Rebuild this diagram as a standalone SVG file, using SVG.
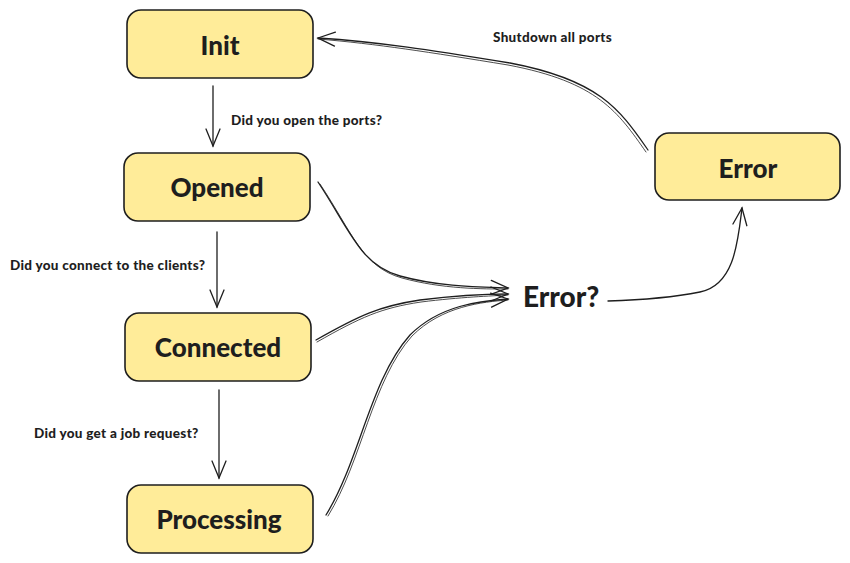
<svg xmlns="http://www.w3.org/2000/svg" width="850" height="563" viewBox="0 0 850 563">
<style>
.node rect{fill:#ffec99;stroke:#1e1e1e;stroke-width:1.6}
.nt{font-family:Lato,"Liberation Sans",sans-serif;font-weight:900;font-size:26px;fill:#1e1e1e;text-anchor:middle;dominant-baseline:central}
.lbl{font-family:Lato,"Liberation Sans",sans-serif;font-weight:900;font-size:13.5px;letter-spacing:0.3px;fill:#1e1e1e}
.c{fill:none;stroke:#1e1e1e;stroke-width:1.3;stroke-linecap:round}
.c2{fill:none;stroke:#1e1e1e;stroke-width:0.8;stroke-linecap:round}
</style>
<defs>
<marker id="ah" viewBox="0 0 20 20" refX="18" refY="10" markerWidth="20" markerHeight="20" markerUnits="userSpaceOnUse" orient="auto">
<path d="M1,3 L18,10 L1,17" fill="none" stroke="#1e1e1e" stroke-width="1.3" stroke-linecap="round"/>
</marker>
</defs>
<rect width="850" height="563" fill="#ffffff"/>
<g id="init" class="node"><rect x="127" y="10" width="186" height="68" rx="14"/><text class="nt" x="220" y="45">Init</text></g>
<g id="opened" class="node"><rect x="124" y="153" width="186" height="68" rx="14"/><text class="nt" x="217" y="187">Opened</text></g>
<g id="connected" class="node"><rect x="125" y="313" width="186" height="68" rx="14"/><text class="nt" x="218" y="347">Connected</text></g>
<g id="processing" class="node"><rect x="127" y="485" width="186" height="68" rx="14"/><text class="nt" x="219" y="519">Processing</text></g>
<g id="error" class="node"><rect x="655" y="133" width="185" height="67" rx="14"/><text class="nt" x="748" y="168">Error</text></g>
<g id="errorq"><text class="nt" x="523" y="296" style="font-size:28px;text-anchor:start">Error?</text></g>
<g id="connectors">
<path class="c" d="M213,86 L213,146" marker-end="url(#ah)"/>
<path class="c" d="M217,232 L217,307" marker-end="url(#ah)"/>
<path class="c" d="M219,390 L219,478" marker-end="url(#ah)"/>
<path class="c" d="M318,182 C350,230 360,265 400,276 C440,287 480,287 508,288" marker-end="url(#ah)"/>
<path class="c2" d="M320,184 C352,232 362,267 402,278 C442,289 482,289 508,289"/>
<path class="c" d="M316,340 C360,315 380,306 420,300 C460,295 490,294 508,294" marker-end="url(#ah)"/>
<path class="c2" d="M317,342 C361,317 381,308 421,302 C461,297 491,296 508,295"/>
<path class="c" d="M326,515 C360,460 370,380 410,335 C440,305 480,301 508,299" marker-end="url(#ah)"/>
<path class="c2" d="M328,516 C362,461 372,381 412,336 C442,306 482,302 508,300"/>
<path class="c" d="M608,301 C640,300 670,298 700,292 C735,285 738,240 742,208" marker-end="url(#ah)"/>
<path class="c" d="M648,150 C620,110 600,80 510,63 C430,50 380,42 318,38" marker-end="url(#ah)"/>
<path class="c2" d="M646,152 C618,112 598,82 508,65 C428,52 378,44 318,39"/>
</g>
<g id="labels">
<text class="lbl" x="231" y="125">Did you open the ports?</text>
<text class="lbl" x="10" y="270">Did you connect to the clients?</text>
<text class="lbl" x="34" y="438">Did you get a job request?</text>
<text class="lbl" x="493" y="42">Shutdown all ports</text>
</g>
</svg>
